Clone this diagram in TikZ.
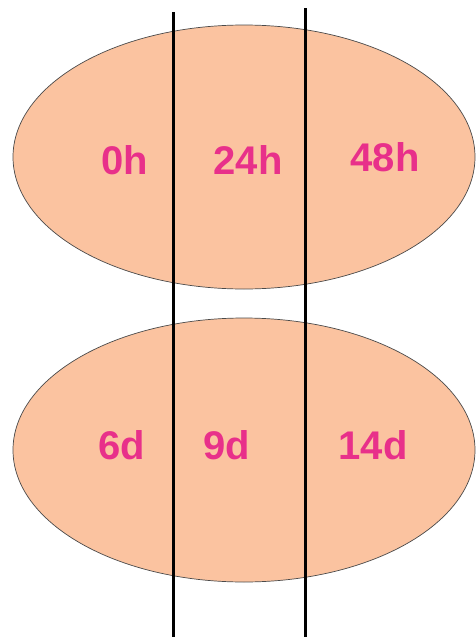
\documentclass[tikz,border=0pt]{standalone}
\usepackage{fontspec}
\setmainfont{Liberation Sans}
\usetikzlibrary{shapes.geometric, positioning}
\definecolor{tsPeach}{HTML}{FBC3A0}
\definecolor{tsPink}{HTML}{E8308A}
\definecolor{tsEdge}{HTML}{4A4A4A}
\tikzset{
  blob/.style     = {ellipse, fill=tsPeach, draw=tsEdge, line width=0.7pt,
                     minimum width=462pt, minimum height=264pt, inner sep=0pt},
  cutline/.style  = {black, line width=3pt},
  tlbl/.style     = {font=\fontsize{40}{48}\selectfont\bfseries, text=tsPink, inner sep=0pt},
}

\begin{document}
\begin{tikzpicture}[x=1pt,y=-1pt]
  \useasboundingbox (0,0) rectangle (476,637);
  \node[blob] (hours) at (244,157) {};
  \node[blob] (days) at (244,450) {};
  % sampling cuts
  \coordinate (cutAtop) at (173,12);
  \coordinate (cutAbot) at (173,637);
  \coordinate (cutBtop) at (305,8);
  \coordinate (cutBbot) at (305,637);
  \draw[cutline] (cutAtop) -- (cutAbot);
  \draw[cutline] (cutBtop) -- (cutBbot);
  % time points
  \node[tlbl] (h0) at (125,160) {0h};
  \node[tlbl] (h24) at (248,160) {24h};
  \node[tlbl] (h48) at (385,157) {48h};
  \node[tlbl] (d6) at (122,445) {6d};
  \node[tlbl] (d9) at (227,445) {9d};
  \node[tlbl] (d14) at (373,445) {14d};
\end{tikzpicture}
\end{document}
